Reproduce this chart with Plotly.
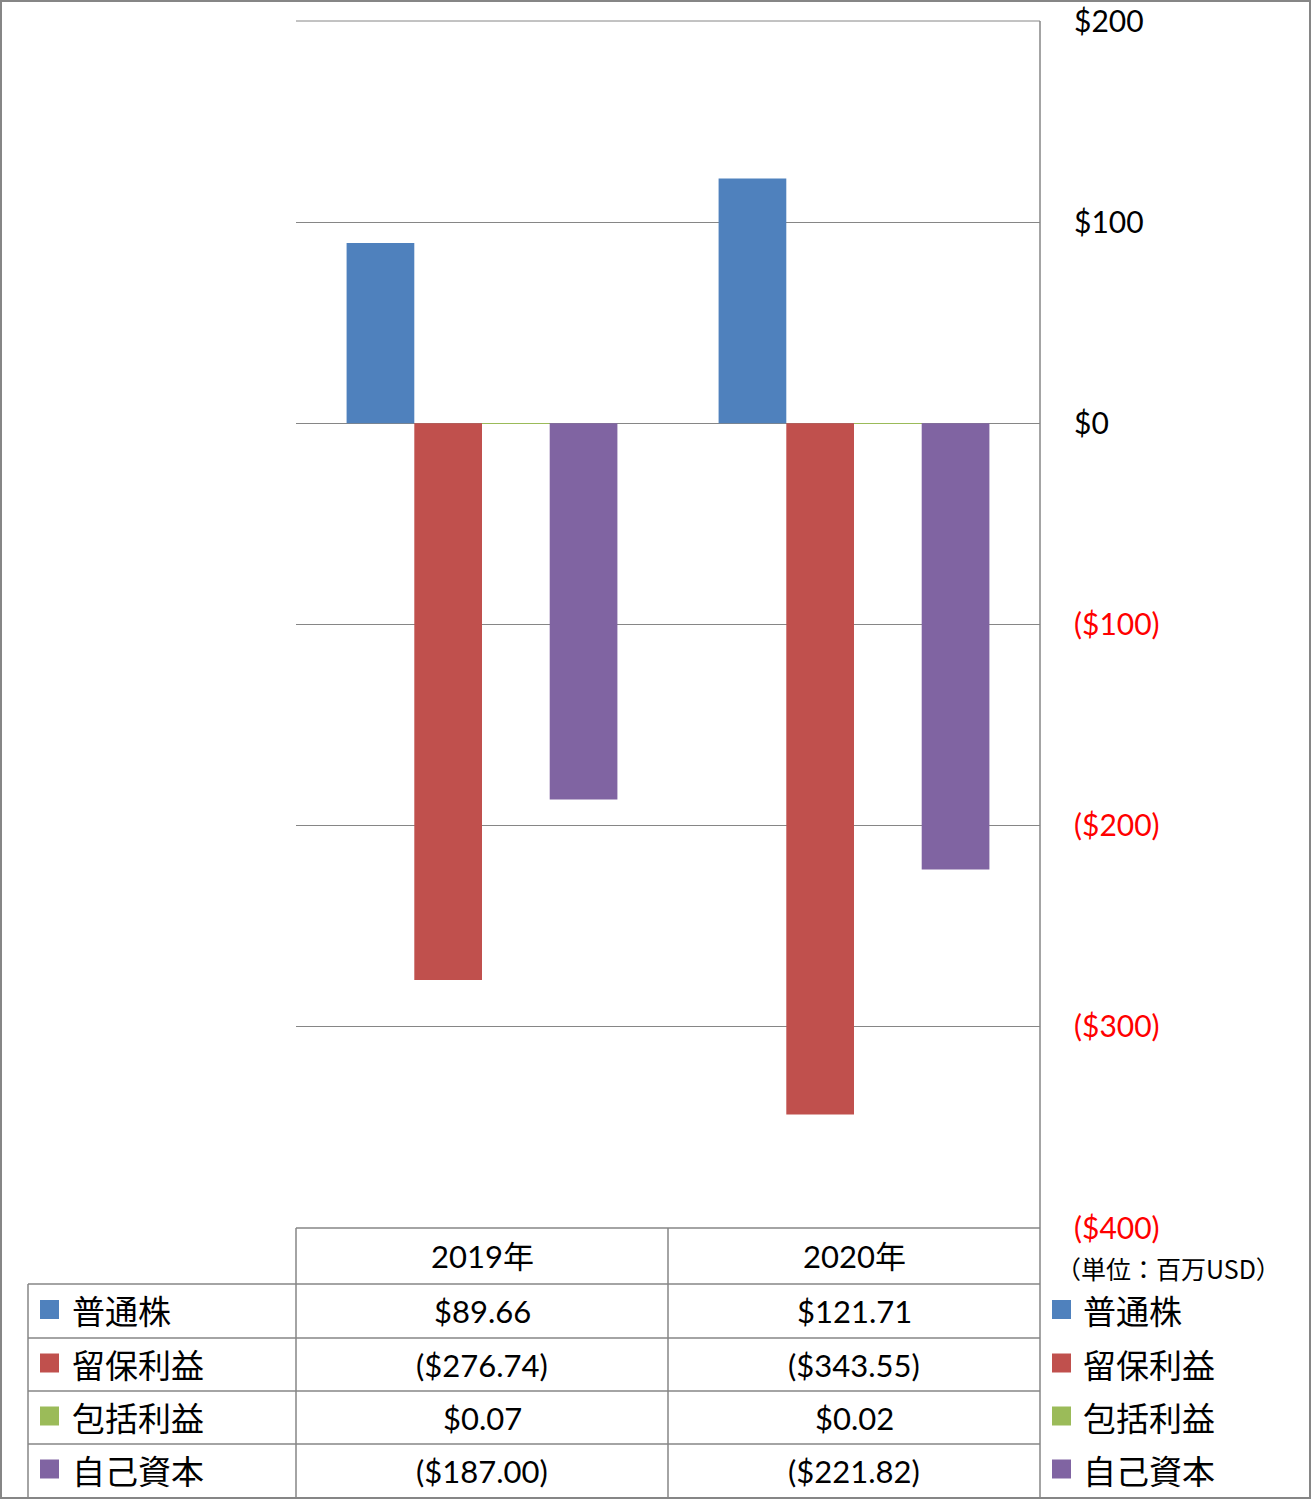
import plotly.graph_objects as go

W, H = 1311, 1500

categories = ["2019年", "2020年"]
series_names = ["普通株", "留保利益", "包括利益", "自己資本"]
common_stock = [89.66, 121.71]
retained_earnings = [-276.74, -343.55]
comprehensive_income = [0.07, 0.02]
equity = [-187.00, -221.82]
series_values = [common_stock, retained_earnings, comprehensive_income, equity]
series_colors = ["#4F81BD", "#C0504D", "#9BBB59", "#8064A2"]
tick_values = [-400, -300, -200, -100, 0, 100, 200]
unit_label = "（単位：百万USD）"

NUM_FONT = "Lato, 'Noto Sans', sans-serif"
JP_FONT = "'Noto Sans CJK JP', sans-serif"
GRID = "#868686"


def px(x):
    return x / W


def py(y):
    return 1 - y / H


def fmt(v):
    return f"(${abs(v):.2f})" if v < 0 else f"${v:.2f}"


def tick_fmt(v):
    if v < 0:
        return f'<span style="color:#FF0000">(${abs(v)})</span>'
    return f"${v}"


fig = go.Figure()
for name, vals, col in zip(series_names, series_values, series_colors):
    fig.add_trace(go.Bar(x=categories, y=vals, name=name, marker=dict(color=col, line=dict(width=0)),
                         showlegend=False))

# plot area geometry (pixels)
PL, PR, PT, PB = 296, 1040, 21, 1228
col_edges = [296, 668, 1040]
row_edges = [1284, 1338, 1391, 1444, 1497]

fig.update_layout(
    width=W, height=H,
    margin=dict(l=0, r=0, t=0, b=0, autoexpand=False),
    paper_bgcolor="white", plot_bgcolor="white",
    barmode="group", bargap=0.272, bargroupgap=0,
    xaxis=dict(domain=[px(PL), px(PR)], showticklabels=False, showgrid=False,
               zeroline=False, showline=False, ticks="", automargin=False),
    yaxis=dict(domain=[py(PB), py(PT)], range=[-400, 200], side="right",
               tickvals=tick_values, ticktext=[tick_fmt(v) for v in tick_values],
               tickfont=dict(family=NUM_FONT, size=30, color="black"),
               showgrid=True, gridcolor=GRID, gridwidth=1,
               zeroline=True, zerolinecolor=GRID, zerolinewidth=1,
               showline=False, ticks="", ticklabelstandoff=33, automargin=False),
)

shapes = []
line = dict(color=GRID, width=1.5)
# top gridline / plot-area top edge and table lines
shapes.append(dict(type="line", xref="paper", yref="paper", x0=px(PL), x1=px(PR), y0=py(PT), y1=py(PT), line=dict(color=GRID, width=1)))
shapes.append(dict(type="line", xref="paper", yref="paper", x0=px(PL), x1=px(PR), y0=py(PB), y1=py(PB), line=line))
for y in row_edges[:-1]:
    shapes.append(dict(type="line", xref="paper", yref="paper", x0=px(28), x1=px(PR), y0=py(y), y1=py(y), line=line))
# vertical lines
shapes.append(dict(type="line", xref="paper", yref="paper", x0=px(28), x1=px(28), y0=py(1284), y1=py(1498), line=line))
for x in col_edges[:2]:
    shapes.append(dict(type="line", xref="paper", yref="paper", x0=px(x), x1=px(x), y0=py(PB), y1=py(1498), line=line))
shapes.append(dict(type="line", xref="paper", yref="paper", x0=px(PR), x1=px(PR), y0=py(PT), y1=py(1498), line=line))
# outer frame
shapes.append(dict(type="rect", xref="paper", yref="paper", x0=px(1), x1=px(1310), y0=py(1), y1=py(1498),
                   line=dict(color=GRID, width=2)))

annotations = []
# header
for i, cat in enumerate(categories):
    cx = (col_edges[i] + col_edges[i + 1]) / 2
    annotations.append(dict(x=px(cx), y=py((PB + 1284) / 2), xref="paper", yref="paper", text=cat,
                            showarrow=False, xanchor="center", yanchor="middle",
                            font=dict(family=NUM_FONT + ", " + JP_FONT, size=31, color="black")))
# rows
for r, (name, vals, col) in enumerate(zip(series_names, series_values, series_colors)):
    cy = (row_edges[r] + row_edges[r + 1]) / 2
    for i, v in enumerate(vals):
        cx = (col_edges[i] + col_edges[i + 1]) / 2
        annotations.append(dict(x=px(cx), y=py(cy), xref="paper", yref="paper", text=fmt(v),
                                showarrow=False, xanchor="center", yanchor="middle",
                                font=dict(family=NUM_FONT, size=31, color="black")))
    for sx, tx in [(40, 70), (1052, 1081)]:
        shapes.append(dict(type="rect", xref="paper", yref="paper", x0=px(sx), x1=px(sx + 19),
                           y0=py(cy - 11), y1=py(cy + 8), fillcolor=col, line=dict(width=0)))
        annotations.append(dict(x=px(tx), y=py(cy - 1), xref="paper", yref="paper", text=name,
                                showarrow=False, xanchor="left", yanchor="middle",
                                font=dict(family=JP_FONT, size=33, color="black")))

annotations.append(dict(x=px(1054), y=py(1268), xref="paper", yref="paper", text=unit_label,
                        showarrow=False, xanchor="left", yanchor="middle",
                        font=dict(family=JP_FONT, size=25, color="black")))

fig.update_layout(shapes=shapes, annotations=annotations)
fig.write_html("out.html", config={"displayModeBar": False},
               post_script="document.body.style.margin='0';document.body.style.padding='0';")
